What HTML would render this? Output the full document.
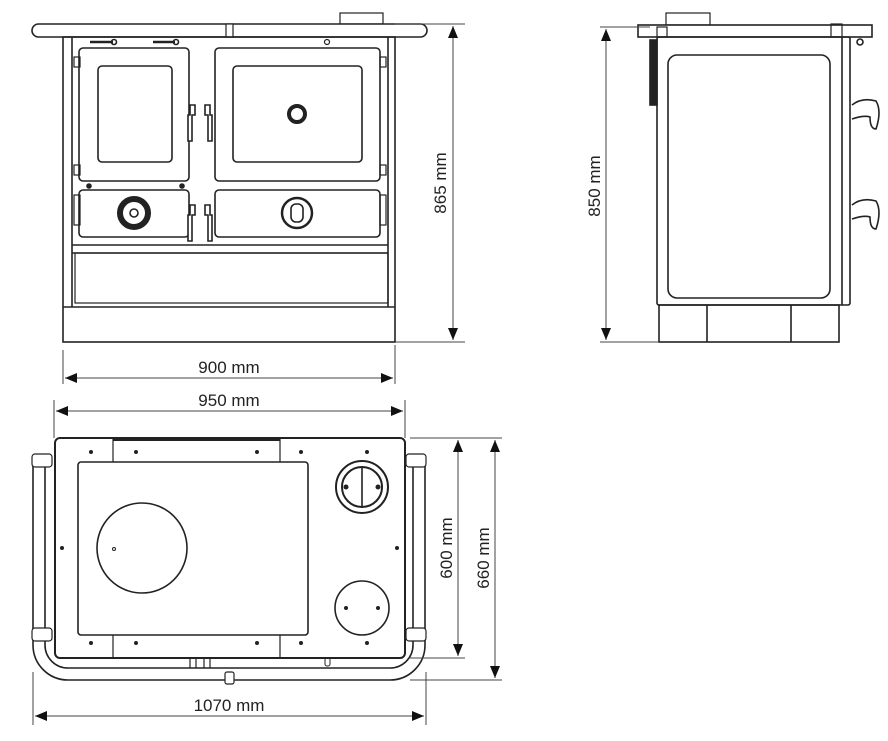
<!DOCTYPE html>
<html><head><meta charset="utf-8"><style>
html,body{margin:0;padding:0;background:#fff;}
svg{display:block;}
text{font-family:"Liberation Sans",sans-serif;font-size:17px;fill:#222;}
</style></head><body>
<svg width="888" height="741" viewBox="0 0 888 741" xmlns="http://www.w3.org/2000/svg">
<defs>
<marker id="a" viewBox="0 0 12 10" refX="12" refY="5" markerWidth="12" markerHeight="10" orient="auto-start-reverse" markerUnits="userSpaceOnUse"><path d="M0,0L12,5L0,10z" fill="#111"/></marker>
</defs>
<g fill="none" stroke="#222" stroke-width="1.6">
<!-- FRONT VIEW -->
<rect x="340" y="13" width="43" height="11" stroke-width="1.2"/>
<rect x="32" y="24" width="395" height="13" rx="6.5" fill="#fff"/>
<rect x="226" y="24" width="7" height="13" fill="#fff" stroke-width="1.2"/>
<rect x="63" y="37" width="332" height="305"/>
<line x1="72" y1="37" x2="72" y2="307"/><line x1="388" y1="37" x2="388" y2="307"/>
<line x1="63" y1="307" x2="395" y2="307"/>
<line x1="72" y1="245" x2="388" y2="245"/><line x1="72" y1="253" x2="388" y2="253"/>
<rect x="75" y="253" width="313" height="50" stroke-width="1.2"/>
<line x1="90" y1="42" x2="113" y2="42" stroke-width="2.5"/><circle cx="114" cy="42" r="2.5"/>
<line x1="153" y1="42" x2="175" y2="42" stroke-width="2.5"/><circle cx="176" cy="42" r="2.5"/>
<circle cx="327" cy="42" r="2.5" stroke-width="1.2"/>
<rect x="79" y="48" width="110" height="133" rx="4"/>
<rect x="98" y="66" width="74" height="96" rx="4"/>
<rect x="215" y="48" width="165" height="133" rx="4"/>
<rect x="233" y="66" width="129" height="96" rx="4"/>
<circle cx="297" cy="114" r="8" stroke-width="4"/>
<rect x="79" y="190" width="110" height="47" rx="4"/>
<rect x="215" y="190" width="165" height="47" rx="4"/>
<circle cx="134" cy="213" r="14" stroke-width="6"/><circle cx="134" cy="213" r="4"/>
<circle cx="297" cy="213" r="15" stroke-width="2.5"/><rect x="291" y="204" width="12" height="18" rx="5"/>
<circle cx="89" cy="186" r="2" fill="#222"/><circle cx="182" cy="186" r="2" fill="#222"/>
<path d="M190,105h5v10h-3v26h-4v-26h2z" fill="#fff"/>
<path d="M210,105h-5v10h3v26h4v-26h-2z" fill="#fff"/>
<path d="M190,205h5v10h-3v26h-4v-26h2z" fill="#fff"/>
<path d="M210,205h-5v10h3v26h4v-26h-2z" fill="#fff"/>
<rect x="74" y="57" width="6" height="10" stroke-width="1.2"/><rect x="74" y="165" width="6" height="10" stroke-width="1.2"/>
<rect x="74" y="195" width="6" height="30" stroke-width="1.2"/>
<rect x="380" y="57" width="6" height="10" stroke-width="1.2"/><rect x="380" y="165" width="6" height="10" stroke-width="1.2"/>
<rect x="380" y="195" width="6" height="30" stroke-width="1.2"/>

<!-- SIDE VIEW -->
<rect x="666" y="13" width="44" height="12" stroke-width="1.2"/>
<rect x="638" y="25" width="234" height="12" fill="#fff"/>
<rect x="657" y="27" width="10" height="10" stroke-width="1.2"/><rect x="831" y="24" width="11" height="13" stroke-width="1.2"/>
<rect x="657" y="37" width="193" height="268" rx="2"/>
<rect x="650" y="40" width="7" height="65" fill="#222"/>
<rect x="668" y="55" width="162" height="243" rx="9"/>
<line x1="842" y1="37" x2="842" y2="305"/>
<rect x="659" y="305" width="180" height="37"/>
<line x1="707" y1="305" x2="707" y2="342"/><line x1="791" y1="305" x2="791" y2="342"/>
<path d="M852,105 q10,-8 24,-4 q6,10 0,28 q-6,0 -6,-12 q-6,-2 -18,2" fill="#fff"/>
<path d="M852,205 q10,-8 24,-4 q6,10 0,28 q-6,0 -6,-12 q-6,-2 -18,2" fill="#fff"/>
<circle cx="860" cy="42" r="3"/>

<!-- TOP VIEW -->
<path d="M33,455 V645 A35,35 0 0 0 68,680 H390 A35,35 0 0 0 425,645 V455" />
<path d="M45,455 V645 A23,23 0 0 0 68,668 H390 A23,23 0 0 0 413,645 V455" />
<rect x="32" y="454" width="20" height="13" rx="3" fill="#fff" stroke-width="1.2"/>
<rect x="32" y="628" width="20" height="13" rx="3" fill="#fff" stroke-width="1.2"/>
<rect x="406" y="454" width="20" height="13" rx="3" fill="#fff" stroke-width="1.2"/>
<rect x="406" y="628" width="20" height="13" rx="3" fill="#fff" stroke-width="1.2"/>
<rect x="225" y="672" width="9" height="12" rx="2" fill="#fff" stroke-width="1.2"/>
<rect x="55" y="438" width="350" height="220" rx="5" fill="#fff" stroke-width="2"/>
<line x1="113" y1="438" x2="113" y2="462" stroke-width="1.2"/><line x1="280" y1="438" x2="280" y2="462" stroke-width="1.2"/>
<line x1="113" y1="635" x2="113" y2="658" stroke-width="1.2"/><line x1="280" y1="635" x2="280" y2="658" stroke-width="1.2"/>
<line x1="113" y1="440" x2="280" y2="440" stroke-width="2"/>
<rect x="78" y="462" width="230" height="173" rx="3"/>
<circle cx="142" cy="548" r="45"/>
<circle cx="114" cy="549" r="1.5" stroke-width="1"/>
<circle cx="362" cy="487" r="26" stroke-width="2"/><circle cx="362" cy="487" r="20" stroke-width="2"/>
<line x1="362" y1="467" x2="362" y2="507"/>
<circle cx="362" cy="608" r="27"/>
<path d="M190,658v10M196,658v10M204,658v10M210,658v10" stroke-width="1.2"/>
<rect x="325" y="658" width="5" height="8" rx="2" stroke-width="1"/>
</g>
<g fill="#222">
<circle cx="91" cy="452" r="2"/><circle cx="136" cy="452" r="2"/><circle cx="257" cy="452" r="2"/><circle cx="301" cy="452" r="2"/><circle cx="367" cy="452" r="2"/>
<circle cx="91" cy="643" r="2"/><circle cx="136" cy="643" r="2"/><circle cx="257" cy="643" r="2"/><circle cx="301" cy="643" r="2"/><circle cx="367" cy="643" r="2"/>
<circle cx="62" cy="548" r="2"/><circle cx="397" cy="548" r="2"/>
<circle cx="346" cy="608" r="2"/><circle cx="378" cy="608" r="2"/>
<circle cx="346" cy="487" r="2.5"/><circle cx="378" cy="487" r="2.5"/>
</g>
<!-- DIMENSIONS -->
<g stroke="#444" stroke-width="1" fill="none">
<line x1="395" y1="24" x2="465" y2="24"/><line x1="395" y1="342" x2="465" y2="342"/>
<line x1="453" y1="26" x2="453" y2="340" marker-start="url(#a)" marker-end="url(#a)"/>
<line x1="600" y1="27" x2="650" y2="27"/><line x1="600" y1="342" x2="659" y2="342"/>
<line x1="606" y1="29" x2="606" y2="340" marker-start="url(#a)" marker-end="url(#a)"/>
<line x1="63" y1="350" x2="63" y2="384"/><line x1="395" y1="345" x2="395" y2="384"/>
<line x1="65" y1="378" x2="393" y2="378" marker-start="url(#a)" marker-end="url(#a)"/>
<line x1="54" y1="400" x2="54" y2="438"/><line x1="405" y1="400" x2="405" y2="438"/>
<line x1="56" y1="411" x2="403" y2="411" marker-start="url(#a)" marker-end="url(#a)"/>
<line x1="410" y1="438" x2="502" y2="438"/><line x1="410" y1="658" x2="465" y2="658"/><line x1="410" y1="680" x2="502" y2="680"/>
<line x1="458" y1="440" x2="458" y2="656" marker-start="url(#a)" marker-end="url(#a)"/>
<line x1="495" y1="440" x2="495" y2="678" marker-start="url(#a)" marker-end="url(#a)"/>
<line x1="33" y1="672" x2="33" y2="725"/><line x1="426" y1="672" x2="426" y2="725"/>
<line x1="35" y1="716" x2="424" y2="716" marker-start="url(#a)" marker-end="url(#a)"/>
</g>
<text x="229" y="373" text-anchor="middle">900 mm</text>
<text x="229" y="406" text-anchor="middle">950 mm</text>
<text x="229" y="711" text-anchor="middle">1070 mm</text>
<text transform="translate(446,183) rotate(-90)" text-anchor="middle">865 mm</text>
<text transform="translate(600,186) rotate(-90)" text-anchor="middle">850 mm</text>
<text transform="translate(452,548) rotate(-90)" text-anchor="middle">600 mm</text>
<text transform="translate(489,558) rotate(-90)" text-anchor="middle">660 mm</text>
</svg>
</body></html>
